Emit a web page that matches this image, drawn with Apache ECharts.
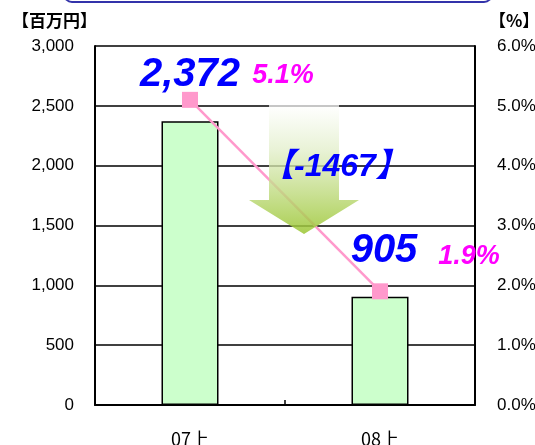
<!DOCTYPE html>
<html>
<head>
<meta charset="utf-8">
<script src="https://cdn.jsdelivr.net/npm/echarts@6/dist/echarts.min.js"></script>
<style>html,body{margin:0;padding:0;background:#fff}#c{width:535px;height:445px}</style>
</head>
<body>
<div id="c"></div>
<script>
const categories = ['07上', '08上'];
const salesValues = [2372, 905];
const rateValues = [5.1, 1.9];
const changeText = '【-1467】';
const leftTicks = [0, 500, 1000, 1500, 2000, 2500, 3000];
const rightTicks = [0, 1, 2, 3, 4, 5, 6];

function comma(v) { return String(v).replace(/\B(?=(\d{3})+(?!\d))/g, ','); }

const chart = echarts.init(document.getElementById('c'), null, {renderer: 'canvas'});
const numFont = 'Liberation Sans';
const barOffsets = [[0, 0], [4, 0]];
const lineOffsets = [[93, -24], [89, -35]];

chart.setOption({
  animation: false,
  backgroundColor: '#fff',
  grid: {left: 95, right: 60, top: 46, bottom: 40, containLabel: false, outerBoundsMode: 'none'},
  xAxis: {
    type: 'category',
    data: categories,
    axisLine: {lineStyle: {color: '#000', width: 2}},
    axisTick: {show: true, inside: true, length: 5, lineStyle: {color: '#000', width: 1.5}},
    axisLabel: {color: '#000', fontSize: 18, fontFamily: 'Noto Sans CJK JP', margin: 25}
  },
  yAxis: [{
    type: 'value', min: leftTicks[0], max: leftTicks[leftTicks.length - 1], interval: 500,
    name: '【百万円】', nameLocation: 'end', nameGap: 17,
    nameTextStyle: {color: '#000', fontSize: 17, fontWeight: 'bold', fontFamily: 'Noto Sans CJK JP', align: 'right', padding: [0, -2, 0, 0]},
    axisLine: {show: true, lineStyle: {color: '#000', width: 2}},
    axisTick: {show: false},
    splitLine: {lineStyle: {color: '#000', width: 1.5}},
    axisLabel: {color: '#000', fontSize: 17, fontFamily: numFont, margin: 21, formatter: v => comma(v)}
  }, {
    type: 'value', min: rightTicks[0], max: rightTicks[rightTicks.length - 1], interval: 1,
    name: '【%】', nameLocation: 'end', nameGap: 17,
    nameTextStyle: {color: '#000', fontSize: 17, fontWeight: 'bold', fontFamily: 'Noto Sans CJK JP', align: 'left', padding: [0, 0, 0, 14]},
    axisLine: {show: true, lineStyle: {color: '#000', width: 2}},
    axisTick: {show: false},
    splitLine: {show: false},
    axisLabel: {color: '#000', fontSize: 17, fontFamily: numFont, margin: 22, formatter: v => v.toFixed(1) + '%'}
  }],
  series: [{
    type: 'bar',
    yAxisIndex: 0,
    barWidth: 57,
    data: salesValues.map((v, i) => ({
      value: v,
      label: {offset: barOffsets[i]}
    })),
    itemStyle: {color: '#ccffcc', borderColor: '#000', borderWidth: 1.5},
    label: {
      show: true, position: 'top', distance: 26,
      formatter: p => comma(p.value),
      color: '#0000ff', fontSize: 40, fontStyle: 'italic', fontWeight: 'bold', fontFamily: numFont
    },
    z: 2
  }, {
    type: 'line',
    yAxisIndex: 1,
    data: rateValues.map((v, i) => ({
      value: v,
      label: {offset: lineOffsets[i]}
    })),
    symbol: 'rect', symbolSize: 16,
    lineStyle: {color: '#ff99cc', width: 2.5},
    itemStyle: {color: '#ff99cc'},
    label: {
      show: true, position: 'inside',
      formatter: p => p.value.toFixed(1) + '%',
      color: '#ff00ff', fontSize: 27, fontStyle: 'italic', fontWeight: 'bold', fontFamily: numFont
    },
    z: 3
  }],
  graphic: [{
    type: 'rect',
    shape: {x: 64, y: -30, width: 428, height: 32, r: 8},
    style: {fill: 'none', stroke: '#3333aa', lineWidth: 2}
  }, {
    type: 'polygon',
    z: 10,
    shape: {points: [[269, 105], [339, 105], [339, 200], [359, 200], [304, 234], [249, 200], [269, 200]]},
    style: {
      fill: new echarts.graphic.LinearGradient(0, 0, 0, 1, [
        {offset: 0, color: 'rgba(255,255,255,0.7)'},
        {offset: 0.35, color: 'rgba(225,238,200,0.75)'},
        {offset: 1, color: 'rgba(155,198,50,0.85)'}
      ])
    }
  }, {
    type: 'text',
    z: 11,
    left: 262, top: 151,
    style: {text: changeText, fill: '#0000ff', font: 'italic bold 32px "Liberation Sans", "Noto Sans CJK JP"'}
  }]
});
</script>
</body>
</html>
